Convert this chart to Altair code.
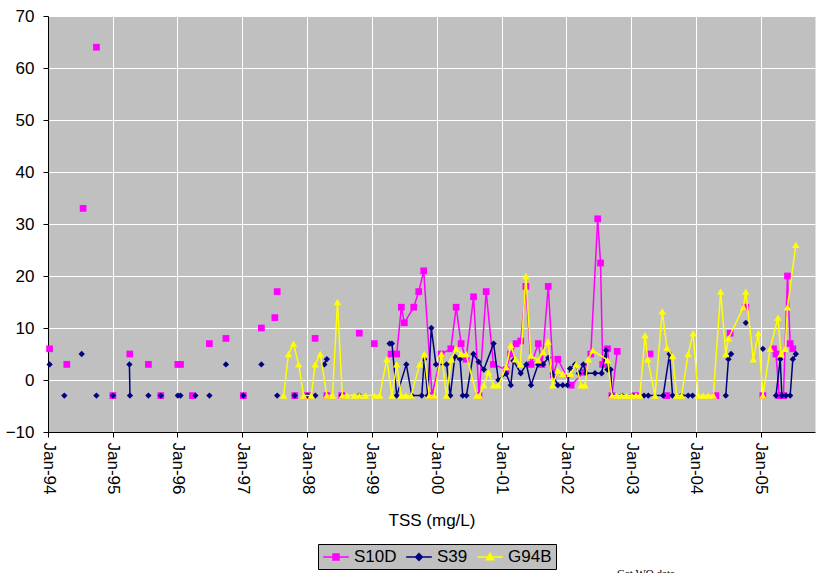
import altair as alt
import pandas as pd

FONT = "Liberation Sans, Arial, sans-serif"

series_names = ["S10D", "S39", "G94B"]
series_colors = ["#FF00FF", "#000080", "#FFFF00"]
series_markers = ["square", "diamond", "triangle-up"]
tick_years = list(range(1994, 2006))
y_ticks = [-10, 0, 10, 20, 30, 40, 50, 60, 70]
credit_text = "Get WQ data"

# None entries mark a break in the connecting line (blank cells in the sheet)
s10d_dates = [
    "1994-01-10", None, "1994-04-17", None, "1994-07-18", None, "1994-10-01", None,
    "1995-01-02", None, "1995-04-07", None, "1995-07-21", None, "1995-09-29", None,
    "1996-01-03", None, "1996-01-18", None, "1996-03-25", None, "1996-06-29", None,
    "1996-09-30", None, "1997-01-06", None, "1997-04-18", None, "1997-07-03", None,
    "1997-07-16", None, "1997-10-23", None, "1998-01-03", None, "1998-02-15", None,
    "1998-04-22", None, "1998-07-15", None, "1998-10-22", None, "1999-01-15", None,
    "1999-04-19", "1999-05-21", "1999-06-16", "1999-07-03", "1999-08-25", "1999-09-22",
    "1999-10-20", "1999-12-06", "2000-01-26", "2000-03-21", "2000-04-20", "2000-05-18",
    "2000-06-15", "2000-07-27", "2000-08-27", "2000-10-06", "2000-11-16", "2001-01-27",
    "2001-02-21", "2001-03-24", "2001-04-19", "2001-05-18", "2001-06-16", "2001-07-27",
    "2001-08-17", "2001-09-21", "2001-10-20", "2001-11-14", "2002-01-28", "2002-04-10",
    "2002-05-19", "2002-06-27", "2002-07-13", "2002-07-25", "2002-08-21", "2002-09-15",
    "2002-10-15", None,
    "2003-01-29", None, "2003-04-18", None, "2003-07-22", None, "2004-04-23", None,
    "2004-07-13", None, "2004-10-09", None, "2005-01-13", None,
    "2005-03-14", "2005-03-28", "2005-04-15", "2005-05-09", "2005-06-01", "2005-06-16",
    "2005-07-01",
]
s10d_vals = [
    6, None, 3, None, 33, None, 64, None,
    -3, None, 5, None, 3, None, -3, None,
    3, None, 3, None, -3, None, 7, None,
    8, None, -3, None, 10, None, 12, None,
    17, None, -3, None, -3, None, 8, None,
    -3, None, -3, None, 9, None, 7, None,
    5, 5, 14, 11, 14, 17,
    21, -3, 5, 6, 14, 7,
    4, 16, -3, 17, 3, 2,
    5, 7, 7.5, 18, 3, 7,
    3, 18, 1, 4, -1, 1.5,
    5, 31, 22.5, 3, 6, -3,
    5.5, None,
    -3, None, 5, None, -3, None, -3, None,
    9, None, 14, None, -3, None,
    6, 5, -3, -3, 20, 7,
    6,
]

s39_dates = [
    "1994-01-10", None, "1994-04-03", None, "1994-07-10", None, "1994-10-01", None,
    "1995-01-02", None, "1995-04-05", "1995-04-08", None, "1995-07-21", None,
    "1995-09-29", None, "1996-01-03", None, "1996-01-18", None, "1996-04-11", None,
    "1996-06-29", None, "1996-09-30", None, "1997-01-06", None, "1997-04-18", None,
    "1997-07-16", None, "1997-10-23", None, "1998-01-03", None, "1998-02-16", None,
    "1998-04-08", "1998-04-22", None, "1998-07-15", None, "1998-10-22", None,
    "1999-04-11", "1999-04-24", "1999-05-21", "1999-07-14", "1999-08-14", "1999-10-09",
    "1999-10-23", "1999-11-12", "1999-12-02", "1999-12-28", "2000-02-26", "2000-03-18",
    "2000-04-13", "2000-05-12", "2000-05-27", "2000-06-17", "2000-07-26", "2000-08-25",
    "2000-09-23", "2000-11-17", "2000-12-14", "2001-01-27", "2001-02-22", "2001-03-09",
    "2001-04-19", "2001-05-21", "2001-06-16", "2001-07-26", "2001-08-23", "2001-09-22",
    "2001-10-16", "2001-11-14", "2001-12-12", "2002-01-07", "2002-01-22", "2002-02-19",
    "2002-03-12", "2002-04-07", "2002-04-22", "2002-06-12", "2002-07-19", "2002-08-13",
    "2002-08-21", "2002-09-08", "2002-09-15", "2002-11-11", "2003-01-07", "2003-03-15",
    "2003-04-08", "2003-07-01", "2003-08-06", "2003-08-23", "2003-10-13", "2003-11-19",
    "2003-12-14", None,
    "2004-06-18", "2004-07-03", "2004-07-18", None, "2004-10-09", None, "2005-01-13", None,
    "2005-03-28", "2005-04-21", "2005-04-30", "2005-05-24", "2005-06-16", "2005-07-01",
    "2005-07-18",
]
s39_vals = [
    3, None, -3, None, 5, None, -3, None,
    -3, None, 3, -3, None, -3, None,
    -3, None, -3, None, -3, None, -3, None,
    -3, None, 3, None, -3, None, 3, None,
    -3, None, -3, None, -3, None, -3, None,
    3, 4, None, -3, None, -3, None,
    7, 7, -3, 3, -3, -3,
    4, -3, 10, 3, 3, -3,
    4.5, 4, -3, -3, 5, 3.5,
    2, 7, 0, 1.2, -1, 3.7,
    1.3, 3, -1, 3, 3, 4.3,
    1.2, -1, -1, -1, 2.2, 3,
    1.3, 3, 1.3, 1.3, 1.3, 5.7,
    2, 2, -3, -3, -3, -3,
    -3, -3, 5, -3, -3, -3,
    -3, None,
    -3, 4, 5, None, 11, None, 6, None,
    -3, 4, -3, -3, -3, 4,
    5,
]

g94b_dates = [
    "1997-08-21", "1997-09-18", "1997-10-16", "1997-11-14", "1997-12-12", "1998-01-24",
    "1998-02-15", "1998-03-16", "1998-04-22", "1998-05-24", "1998-06-21", "1998-07-18",
    "1998-08-13", "1998-09-23", "1998-10-22", "1998-11-26", "1999-01-15", "1999-02-14",
    "1999-03-26", "1999-04-24", "1999-05-21", "1999-06-15", "1999-07-11", "1999-08-10",
    "1999-09-27", "1999-10-23", "1999-11-20", "1999-12-18", "2000-01-28", "2000-02-25",
    "2000-03-24", "2000-04-20", "2000-05-18", "2000-06-15", "2000-08-14", "2000-08-29",
    "2000-09-23", "2000-10-19", "2000-11-16", "2000-12-14", "2001-01-27", "2001-02-22",
    "2001-03-20", "2001-04-17", "2001-05-18", "2001-06-15", "2001-07-26", "2001-08-23",
    "2001-09-20", "2001-10-16", "2001-11-14", "2001-12-12", "2002-01-25", "2002-02-25",
    "2002-03-25", "2002-04-17", "2002-05-05", "2002-05-30", "2002-08-22", "2002-09-15",
    "2002-10-12", "2002-11-09", "2002-12-07", "2003-01-05", "2003-01-29", "2003-02-20",
    "2003-03-21", "2003-04-05", "2003-05-16", "2003-06-26", "2003-07-22", "2003-08-23",
    "2003-09-15", "2003-10-13", "2003-11-19", "2003-12-17", "2004-01-15", "2004-02-12",
    "2004-03-11", "2004-04-09", "2004-05-20", "2004-06-18", "2004-07-03", "2004-09-25",
    "2004-10-09", "2004-11-20", "2004-12-19", "2005-01-13", "2005-02-23", "2005-04-08",
    "2005-04-25", "2005-05-19", "2005-06-01", "2005-07-18",
]
g94b_vals = [
    -3, 5, 7, 3, -3, -3,
    3, 5, -3, -3, 15, -3,
    -3, -3, -3, -3, -3, -3,
    4, -3, 3, -3, -3, -3,
    3, 5, -3, -3, 5, -3,
    4, 6, 5, 5, -3, -3,
    -1, 1.5, -1, -1, 2.5, 6.7,
    4, 3, 20, 4.7, 3.8, 5.4,
    7.4, -1, 1.8, 1.2, 1.2, 3,
    -1, -1, 4, 5.7, 3.8, -3,
    -3, -3, -3, -3, -3, -3,
    8.6, 4, -3, 13.2, 6.2, 4.6,
    -3, -3, 5, 9, -3, -3,
    -3, -3, 17, 5, 8, 14,
    17, 4, 9, -3, 6, 12,
    5, 6, 14, 26,
]


def build(name, dates, vals):
    assert len(dates) == len(vals)
    rows, seg = [], 0
    for d, v in zip(dates, vals):
        if v is None:
            seg += 1
            continue
        rows.append({"series": name, "date": d, "value": v, "seg": f"{name}-{seg}"})
    return pd.DataFrame(rows)


frames = [build("S10D", s10d_dates, s10d_vals),
          build("S39", s39_dates, s39_vals),
          build("G94B", g94b_dates, g94b_vals)]

x_scale = alt.Scale(type="utc", domain=[alt.DateTime(year=1994, month=1, date=1, utc=True),
                                        alt.DateTime(year=2005, month=11, date=3, utc=True)])
y_scale = alt.Scale(domain=[y_ticks[0], y_ticks[-1]], nice=False, zero=False)
x_axis = alt.Axis(values=[alt.DateTime(year=y, month=1, date=1, utc=True) for y in tick_years],
                  format="%b-%y", labelAngle=90, labelFlush=False, labelPadding=5,
                  title="TSS (mg/L)", titleY=88, titleBaseline="middle", grid=True)
y_axis = alt.Axis(values=y_ticks, title=None, labelPadding=9, grid=True)

# legend symbols: a short line segment with the series marker in its middle
legend_paths = [
    "M-1.6,0H1.6M-0.38,-0.38H0.38V0.38H-0.38Z",
    "M-1.6,0H1.6M0,-0.42L0.42,0L0,0.42L-0.42,0Z",
    "M-1.6,0H1.6M0,-0.45L0.45,0.33L-0.45,0.33Z",
]


def pick(values):
    expr = "'" + values[-1] + "'"
    for n, v in reversed(list(zip(series_names[:-1], values[:-1]))):
        expr = f"datum.value === '{n}' ? '{v}' : ({expr})"
    return expr


legend = alt.Legend(
    title=None, orient="none", legendX=270, legendY=528, direction="horizontal",
    fillColor="#C0C0C0", strokeColor="#000000", padding=4,
    labelFont=FONT, labelFontSize=17, labelColor="#000000", labelOffset=9,
    columnPadding=6, symbolSize=256, symbolStrokeWidth=1.5, symbolOffset=5,
    symbolType=alt.ExprRef(expr=pick(legend_paths)),
    symbolFillColor=alt.ExprRef(expr=pick(series_colors)),
)
color = alt.Color("series:N", scale=alt.Scale(domain=series_names, range=series_colors), legend=legend)

layers = []
for df, col, shp, sz in zip(frames, series_colors, series_markers, [45, 40, 55]):
    base = alt.Chart(df)
    line = base.mark_line(strokeWidth=1.5).encode(
        x=alt.X("date:T", scale=x_scale, axis=x_axis),
        y=alt.Y("value:Q", scale=y_scale, axis=y_axis),
        color=color,
        detail="seg:N",
        order="date:T",
    )
    pts = base.mark_point(shape=shp, filled=True, size=sz, opacity=1, color=col).encode(
        x=alt.X("date:T", scale=x_scale, axis=x_axis),
        y=alt.Y("value:Q", scale=y_scale, axis=y_axis),
    )
    layers += [line, pts]

credit = alt.Chart(pd.DataFrame({"t": [credit_text]})).mark_text(
    font="Liberation Serif", fontSize=11, align="left", baseline="top", color="#000000"
).encode(text="t:N", x=alt.value(569), y=alt.value(552))
layers.append(credit)

chart = alt.layer(*layers).properties(
    width=767, height=416,
    autosize=alt.AutoSizeParams(type="none"),
    padding={"left": 48, "top": 16, "right": 1, "bottom": 141},
).configure_view(fill="#C0C0C0", stroke="transparent").configure_axis(
    domainColor="#000000", tickColor="#000000", tickSize=5, gridColor="#FFFFFF", gridWidth=1,
    labelFont=FONT, labelFontSize=17, labelColor="#000000",
    titleFont=FONT, titleFontSize=17, titleColor="#000000", titleFontWeight="normal",
)

chart.save("out.html", embed_options={"renderer": "svg", "actions": False})
